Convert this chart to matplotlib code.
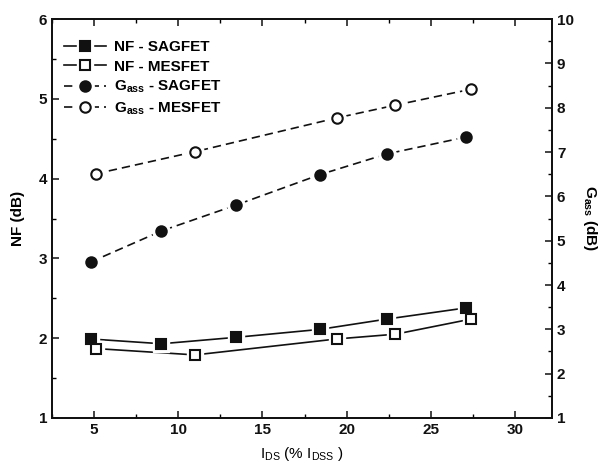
import matplotlib
matplotlib.use("Agg")
import matplotlib.pyplot as plt
from matplotlib.ticker import MultipleLocator
from matplotlib.legend_handler import HandlerTuple

plt.rcParams['font.family'] = ['Liberation Sans', 'DejaVu Sans']
plt.rcParams['mathtext.default'] = 'regular'

# Data
x_sag = [4.8, 9.0, 13.4, 18.4, 22.4, 27.1]
nf_sag = [1.99, 1.93, 2.01, 2.11, 2.24, 2.38]
g_sag = [4.52, 5.22, 5.80, 6.49, 6.96, 7.34]

x_mes = [5.1, 11.0, 19.4, 22.9, 27.4]
nf_mes = [1.87, 1.79, 1.99, 2.05, 2.24]
g_mes = [6.51, 7.01, 7.77, 8.06, 8.42]

labels = ['NF - SAGFET', 'NF - MESFET',
          r'$G_{ass}$ - SAGFET', r'$G_{ass}$ - MESFET']
xticks = [5, 10, 15, 20, 25, 30]

fig = plt.figure(figsize=(6.02, 4.68), dpi=100)
ax = fig.add_axes([0.0864, 0.107, 0.8306, 0.852])
ax2 = ax.twinx()

col = '#111111'
lw = 1.2
dash = (0, (5, 3))


def series(a, x, y, ls, marker, ms, filled):
    ln, = a.plot(x, y, linestyle=ls, color=col, lw=lw, zorder=2)
    halo, = a.plot(x, y, linestyle='none', marker=marker, ms=ms + 5,
                   mfc='white', mec='white', zorder=3)
    mk, = a.plot(x, y, linestyle='none', marker=marker, ms=ms,
                 mfc=col if filled else 'white', mec=col, mew=1.5, zorder=4)
    return (ln, halo, mk)


h1 = series(ax, x_sag, nf_sag, '-', 's', 6.5, True)
h2 = series(ax, x_mes, nf_mes, '-', 's', 6.5, False)
h3 = series(ax2, x_sag, g_sag, dash, 'o', 7.5, True)
h4 = series(ax2, x_mes, g_mes, dash, 'o', 7.5, False)

ax.set_xlim(2.5, 32.2)
ax.set_ylim(1, 6)
ax2.set_ylim(1, 10)
ax.set_xticks(xticks)
ax.xaxis.set_minor_locator(MultipleLocator(2.5))
ax.yaxis.set_major_locator(MultipleLocator(1))
ax.yaxis.set_minor_locator(MultipleLocator(0.5))
ax2.yaxis.set_major_locator(MultipleLocator(1))
ax2.yaxis.set_minor_locator(MultipleLocator(0.5))

fs = 11
for a in (ax, ax2):
    a.tick_params(which='major', direction='in', length=5, width=1.1,
                  labelsize=fs, colors=col)
    a.tick_params(which='minor', direction='in', length=3, width=1.0)
    for s in a.spines.values():
        s.set_linewidth(1.3)
        s.set_color(col)
ax.tick_params(which='both', top=True, right=False)
ax2.tick_params(which='both', left=False, right=True)
for lab in ax.get_xticklabels() + ax.get_yticklabels() + ax2.get_yticklabels():
    lab.set_fontweight('bold')

ax.set_ylabel('NF (dB)', fontsize=fs, fontweight='bold', labelpad=10)
ax2.set_ylabel(r'$G_{ass}$ (dB)', fontsize=fs, fontweight='bold',
               rotation=270, labelpad=18)
ax.set_xlabel(r'$I_{DS}$ (% $I_{DSS}$ )', fontsize=fs, labelpad=6)

leg = ax.legend([h1, h2, h3, h4], labels, loc='upper left', frameon=False,
                fontsize=fs, handlelength=2.8, handletextpad=0.5,
                labelspacing=0.35, bbox_to_anchor=(0.005, 0.97),
                borderaxespad=0.2,
                handler_map={tuple: HandlerTuple(ndivide=None, pad=0)})
# overlay the tuple parts instead of dividing
leg.remove()
leg = ax.legend([h1, h2, h3, h4], labels, loc='upper left', frameon=False,
                fontsize=fs, handlelength=2.8, handletextpad=0.5,
                labelspacing=0.35, bbox_to_anchor=(0.005, 0.97),
                borderaxespad=0.2,
                handler_map={tuple: HandlerTuple(ndivide=1)})
for t in leg.get_texts():
    t.set_fontweight('bold')

fig.savefig('out.png', dpi=100)
